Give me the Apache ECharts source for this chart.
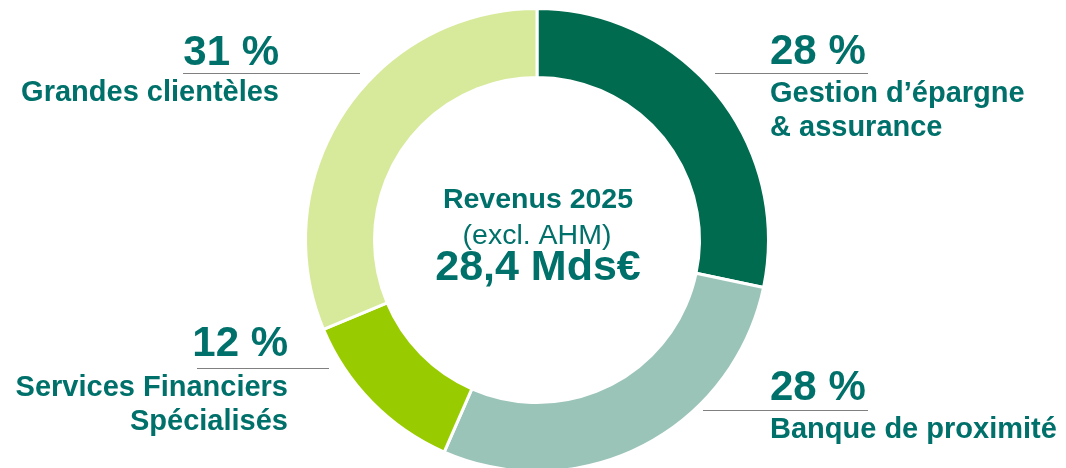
<!DOCTYPE html>
<html>
<head>
<meta charset="utf-8">
<script src="https://cdn.jsdelivr.net/npm/echarts@6/dist/echarts.min.js"></script>
<style>
  html, body { margin: 0; padding: 0; background: #fff; }
  #chart { width: 1066px; height: 468px; }
</style>
</head>
<body>
<div id="chart"></div>
<script>
// segments, clockwise from 12 o'clock
const segments = ['Gestion d\u2019épargne\n& assurance', 'Banque de proximité', 'Services Financiers\nSpécialisés', 'Grandes clientèles'];
const shares = [28, 28, 12, 31];
const colors = ['#006B4F', '#9BC4B8', '#99CC00', '#D7EA9B'];
const centerLines = ['Revenus 2025', '(excl. AHM)', '28,4 Mds€'];

const textColor = '#00706A';
const font = '"Liberation Sans", Arial, sans-serif';

// label placement for each segment (outside the ring)
const labelSpots = [
  { x: 770, pctY: 52, lineY: 73.5, lineX: [715, 868], textY: 94, align: 'left' },
  { x: 770, pctY: 388, lineY: 410.5, lineX: [703, 868], textY: 430, align: 'left' },
  { x: 288, pctY: 344, lineY: 368.5, lineX: [197, 329], textY: 388, align: 'right' },
  { x: 279, pctY: 53, lineY: 73.5, lineX: [183, 360], textY: 93, align: 'right' }
];

const graphics = [];
segments.forEach((name, i) => {
  const s = labelSpots[i];
  graphics.push({
    type: 'text', x: s.x, y: s.pctY,
    style: { text: shares[i] + ' %', fill: textColor, font: 'bold 42px ' + font, textAlign: s.align, textVerticalAlign: 'middle' }
  });
  graphics.push({
    type: 'line', shape: { x1: s.lineX[0], y1: s.lineY, x2: s.lineX[1], y2: s.lineY },
    style: { stroke: '#808080', lineWidth: 1 }
  });
  name.split('\n').forEach((line, k) => {
    graphics.push({
      type: 'text', x: s.x, y: s.textY + k * 34,
      style: { text: line, fill: textColor, font: 'bold 29px ' + font, textAlign: s.align, textVerticalAlign: 'middle' }
    });
  });
});

graphics.push({
  type: 'text', x: 538, y: 200,
  style: { text: centerLines[0], fill: textColor, font: 'bold 28.5px ' + font, textAlign: 'center', textVerticalAlign: 'middle' }
});
graphics.push({
  type: 'text', x: 537, y: 236,
  style: { text: centerLines[1], fill: textColor, font: '28.5px ' + font, textAlign: 'center', textVerticalAlign: 'middle' }
});
graphics.push({
  type: 'text', x: 538, y: 268,
  style: { text: centerLines[2], fill: textColor, font: 'bold 43px ' + font, textAlign: 'center', textVerticalAlign: 'middle' }
});

const chart = echarts.init(document.getElementById('chart'));
chart.setOption({
  animation: false,
  backgroundColor: '#fff',
  graphic: graphics,
  series: [{
    type: 'pie',
    center: [537, 240],
    radius: [162.5, 231.5],
    startAngle: 90,
    clockwise: true,
    label: { show: false },
    labelLine: { show: false },
    emphasis: { disabled: true },
    itemStyle: { borderColor: '#fff', borderWidth: 3 },
    data: segments.map((n, i) => ({ name: n, value: shares[i], itemStyle: { color: colors[i] } }))
  }]
});
</script>
</body>
</html>
